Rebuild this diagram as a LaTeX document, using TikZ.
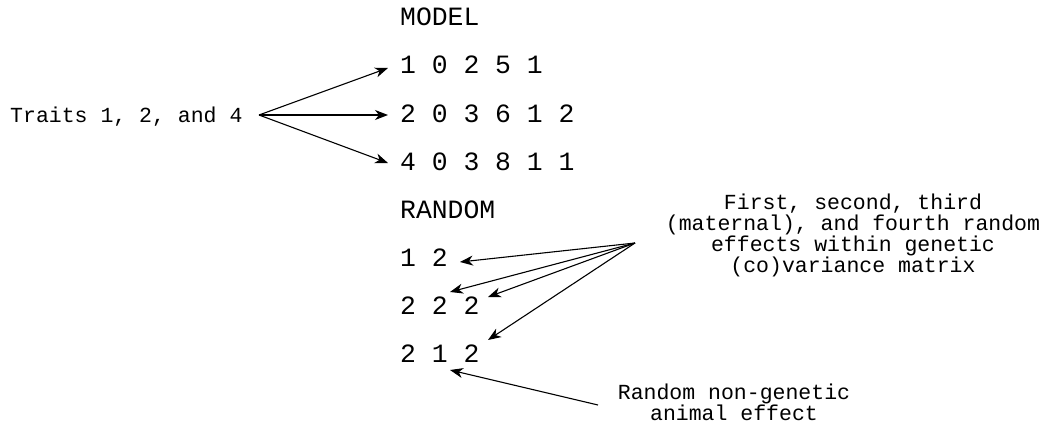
\documentclass[tikz,border=0pt]{standalone}
\usepackage{fontspec}
\newfontfamily\cour{Liberation Mono}
\usetikzlibrary{arrows.meta}
\begin{document}
\begin{tikzpicture}[x=1pt,y=-1pt,
  big/.style={font=\cour\fontsize{26.4}{30}\selectfont, inner sep=0pt, anchor=base west},
  small/.style={font=\cour\fontsize{21.5}{20.7}\selectfont, inner sep=0pt, align=center},
  arr/.style={line width=1.1pt, -{Stealth[length=13pt,width=10pt,inset=4pt]}}]
\useasboundingbox (0,0) rectangle (1044,428);
% left text
\node[small, anchor=base west] (traits) at (10,122) {Traits 1, 2, and 4};
% MODEL block
\node[big] (model) at (400,26) {MODEL};
\node[big] (m1) at (400,74) {1 0 2 5 1};
\node[big] (m2) at (400,122) {2 0 3 6 1 2};
\node[big] (m3) at (400,170) {4 0 3 8 1 1};
% RANDOM block
\node[big] (random) at (400,218) {RANDOM};
\node[big] (r1) at (400,266) {1 2};
\node[big] (r2) at (400,314) {2 2 2};
\node[big] (r3) at (400,362) {2 1 2};
% right notes (base anchor = baseline of last line)
\node[small, anchor=base] (gen) at (853,272) {First, second, third\\(maternal), and fourth random\\effects within genetic\\(co)variance matrix};
\node[small, anchor=base] (nongen) at (734,420) {Random non-genetic\\animal effect};
% hub and tip coordinates
\coordinate (hubT) at (259,115);
\coordinate (t1) at (388,68);
\coordinate (t2) at (388,115);
\coordinate (t3) at (388,163);
\coordinate (hubR) at (635,243);
\coordinate (e1) at (460,262);
\coordinate (e2) at (450,292);
\coordinate (e3) at (488,297);
\coordinate (e4) at (488,340);
\coordinate (hubN) at (598,405);
\coordinate (e5) at (450,370);
% connectors
\draw[arr] (hubT) -- (t1);
\draw[arr] (hubT) -- (t2);
\draw[arr] (hubT) -- (t3);
\draw[arr] (hubR) -- (e1);
\draw[arr] (hubR) -- (e2);
\draw[arr] (hubR) -- (e3);
\draw[arr] (hubR) -- (e4);
\draw[arr] (hubN) -- (e5);
\end{tikzpicture}
\end{document}
